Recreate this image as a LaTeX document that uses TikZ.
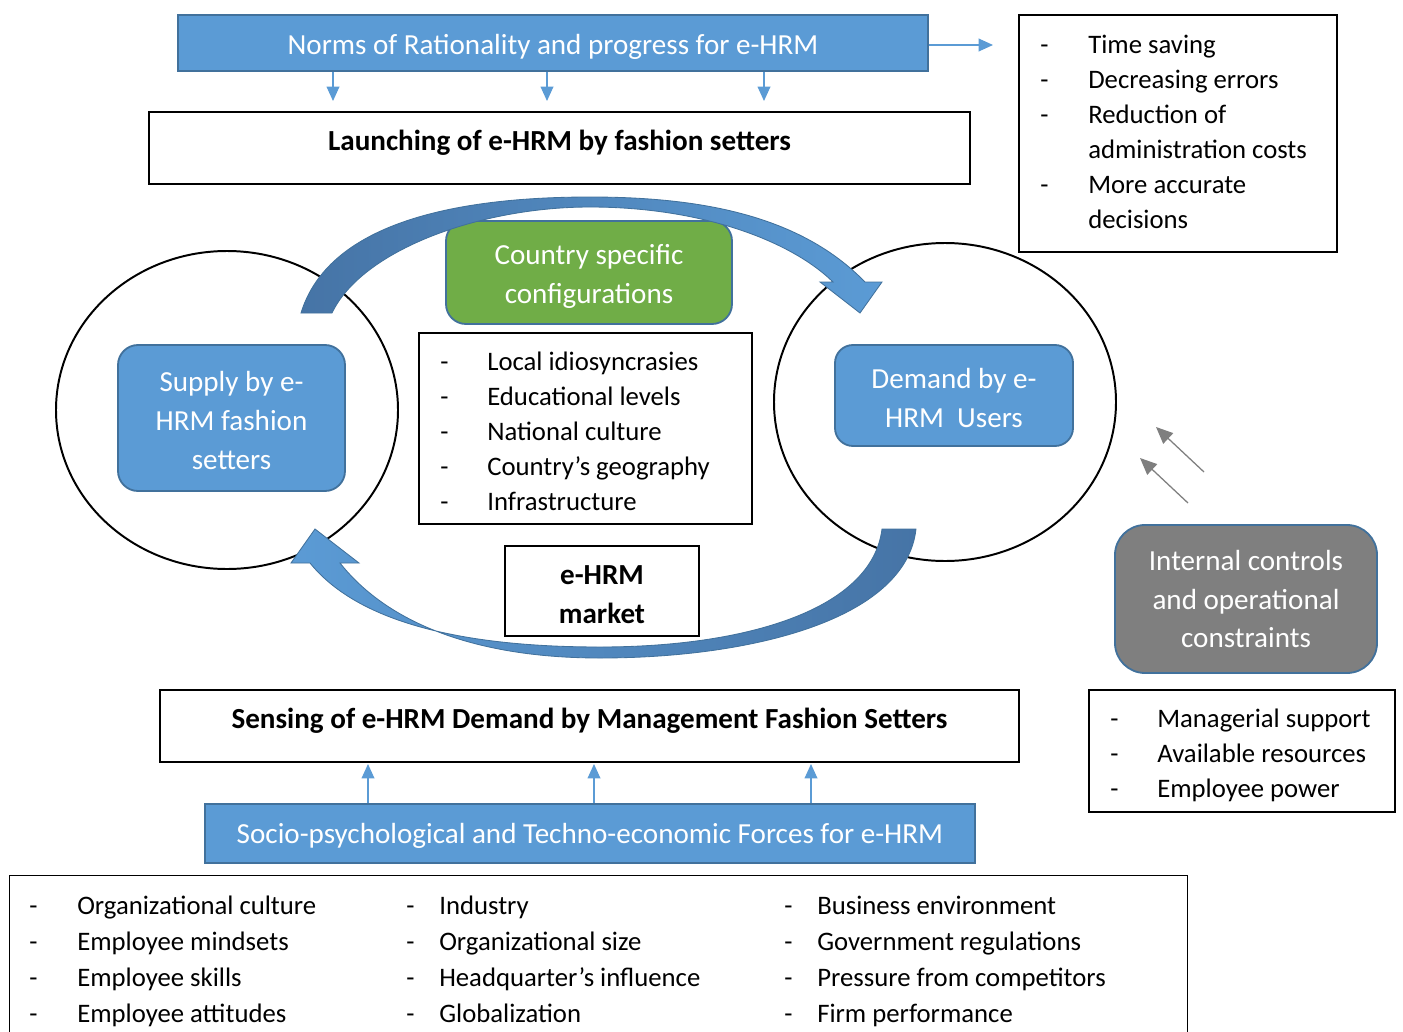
\documentclass[tikz,border=0pt]{standalone}
\usepackage{fontspec}
\setmainfont{Carlito}
\usetikzlibrary{arrows.meta,shapes.geometric}

\definecolor{boxblue}{HTML}{5B9BD5}
\definecolor{boxline}{HTML}{41719C}
\definecolor{tailblue}{HTML}{4674A6}
\definecolor{boxgreen}{HTML}{70AD47}
\definecolor{boxgrey}{HTML}{7F7F7F}
\def\unitpx{0.025cm}                       % one pixel of the layout
\newcommand\listsize{\fontsize{19}{25}\selectfont}
\newcommand\boxsize{\fontsize{20.7}{27.5}\selectfont}

\tikzset{
  plainbox/.style={draw=black, line width=1pt, inner sep=0pt},
  bluebox/.style={draw=boxline, fill=boxblue, line width=1.3pt, inner sep=0pt},
  boxtext/.style={text=white, font=\boxsize, align=center, inner sep=0pt},
  boldtext/.style={font=\boxsize\bfseries, align=center, inner sep=0pt},
  ring/.style={ellipse, draw=black, line width=1.4pt, inner sep=0pt,
    minimum width=342*\unitpx, minimum height=318*\unitpx},
  itemtext/.style={anchor=base west, inner sep=0pt, font=\listsize},
  bluearrow/.style={draw=boxblue, line width=0.9pt,
    -{Triangle[length=0.36cm,width=0.32cm]}},
  greyarrow/.style={draw=boxgrey, line width=0.9pt,
    -{Triangle[length=0.42cm,width=0.36cm]}},
  bigarrow/.style={draw=boxline, line width=0.6pt}
}

\begin{document}
\begin{tikzpicture}[x=0.025cm, y=-0.025cm]
  \useasboundingbox (0,0) rectangle (1403,1032);

  % market circles
  \node[ring] (supplyring) at (227,410) {};
  \node[ring] (demandring) at (945,402) {};

  % top part
  \node[bluebox, minimum width=750*\unitpx, minimum height=56*\unitpx,
    label={[boxtext, yshift=-0.1cm]center:Norms of Rationality and progress for e-HRM}]
    (norms) at (553,43) {};
  \node[plainbox, minimum width=821*\unitpx, minimum height=72*\unitpx,
    label={[boldtext, yshift=0.125cm]center:Launching of e-HRM by fashion setters}]
    (launch) at (559.5,148) {};
  \foreach \xx [count=\i] in {333,547,764} {
    \coordinate (nd\i) at (\xx,101);
    \draw[bluearrow] (norms.south -| nd\i) -- (nd\i);
  }
  \coordinate (ne) at (993,45);
  \draw[bluearrow] (norms.east |- ne) -- (ne);

  \node[plainbox, minimum width=318*\unitpx, minimum height=237*\unitpx]
    (gains) at (1178,133.5) {};
  \foreach \dash/\txt [count=\i] in {-/Time saving, -/Decreasing errors,
      -/Reduction of, /administration costs, -/More accurate, /decisions} {
    \node[itemtext] (gd\i) at (1040,{53+35*(\i-1)}) {\dash};
    \node[itemtext] (gt\i) at (1088,{53+35*(\i-1)}) {\txt};
  }

  % middle part
  \node[bluebox, rounded corners=0.5cm, minimum width=227*\unitpx,
    minimum height=146*\unitpx,
    label={[boxtext, yshift=-0.065cm]center:{Supply by e-\\HRM fashion\\setters}}]
    (supply) at (231.5,418) {};
  \node[bluebox, rounded corners=0.45cm, minimum width=238*\unitpx,
    minimum height=101*\unitpx,
    label={[boxtext, yshift=-0.065cm]center:{Demand by e-\\HRM\ \ Users}}]
    (demand) at (954,395.5) {};
  \node[bluebox, fill=boxgreen, rounded corners=0.5cm,
    minimum width=286*\unitpx, minimum height=103*\unitpx,
    label={[boxtext, yshift=-0.1cm]center:{Country specific\\configurations}}]
    (country) at (589,272.5) {};
  \node[plainbox, minimum width=333*\unitpx, minimum height=191*\unitpx]
    (local) at (585.5,428.5) {};
  \foreach \txt [count=\i] in {Local idiosyncrasies, Educational levels,
      National culture, Country’s geography, Infrastructure} {
    \node[itemtext] (ld\i) at (440,{370+35*(\i-1)}) {-};
    \node[itemtext] (lt\i) at (487,{370+35*(\i-1)}) {\txt};
  }
  \node[plainbox, minimum width=194*\unitpx, minimum height=90*\unitpx,
    label={[boldtext, yshift=-0.09cm]center:{e-HRM\\market}}]
    (market) at (602,591) {};

  % supply to demand, over the top
  \shadedraw[bigarrow, left color=tailblue, right color=boxblue]
    (301,313) -- (332,313)
    .. controls (362,250) and (480,207) .. (590,207)
    .. controls (700,207) and (790,240) .. (833,282)
    -- (820,282) -- (860,313) -- (882,282) -- (865,282)
    .. controls (800,215) and (700,197) .. (590,197)
    .. controls (450,197) and (328,225) .. (301,313) -- cycle;
  % demand back to supply, underneath
  \shadedraw[bigarrow, left color=boxblue, right color=tailblue]
    (916,529)
    .. controls (906,620) and (750,658) .. (600,658)
    .. controls (470,658) and (385,620) .. (340,563)
    -- (359,563) -- (315,529) -- (291,563) -- (310,563)
    .. controls (360,625) and (470,647) .. (600,647)
    .. controls (745,647) and (872,610) .. (882,529) -- cycle;

  % right side
  \node[bluebox, fill=boxgrey, rounded corners=0.75cm,
    minimum width=262*\unitpx, minimum height=148*\unitpx,
    label={[boxtext]center:{Internal controls\\and operational\\constraints}}]
    (internal) at (1246,599) {};
  \node[plainbox, minimum width=306*\unitpx, minimum height=122*\unitpx]
    (limits) at (1242,751) {};
  \foreach \txt [count=\i] in {Managerial support, Available resources,
      Employee power} {
    \node[itemtext] (md\i) at (1110,{727+35*(\i-1)}) {-};
    \node[itemtext] (mt\i) at (1157,{727+35*(\i-1)}) {\txt};
  }
  \coordinate (ga1) at (1204,472);
  \coordinate (gb1) at (1156,427);
  \coordinate (ga2) at (1188,503);
  \coordinate (gb2) at (1140,458);
  \draw[greyarrow] (ga1) -- (gb1);
  \draw[greyarrow] (ga2) -- (gb2);

  % bottom part
  \node[plainbox, minimum width=859*\unitpx, minimum height=72*\unitpx,
    label={[boldtext, yshift=0.125cm]center:Sensing of e-HRM Demand by Management Fashion Setters}]
    (sensing) at (589.5,726) {};
  \node[bluebox, minimum width=770*\unitpx, minimum height=59*\unitpx,
    label={[boxtext, yshift=-0.05cm]center:Socio-psychological and Techno-economic Forces for e-HRM}]
    (socio) at (590,833.5) {};
  \foreach \xx [count=\i] in {368,594,811} {
    \coordinate (su\i) at (\xx,764);
    \draw[bluearrow] (socio.north -| su\i) -- (su\i);
  }
  \node[plainbox, anchor=north west, minimum width=1178*\unitpx,
    minimum height=220*\unitpx] (forces) at (9,875) {};
  \foreach \ca/\cb/\cc [count=\i] in {
      Organizational culture/Industry/Business environment,
      Employee mindsets/Organizational size/Government regulations,
      Employee skills/Headquarter’s influence/Pressure from competitors,
      Employee attitudes/Globalization/Firm performance} {
    \node[itemtext] (fa\i) at (29,{914+36*(\i-1)}) {-};
    \node[itemtext] (fta\i) at (77,{914+36*(\i-1)}) {\ca};
    \node[itemtext] (fb\i) at (406,{914+36*(\i-1)}) {-};
    \node[itemtext] (ftb\i) at (439,{914+36*(\i-1)}) {\cb};
    \node[itemtext] (fc\i) at (784,{914+36*(\i-1)}) {-};
    \node[itemtext] (ftc\i) at (817,{914+36*(\i-1)}) {\cc};
  }
\end{tikzpicture}
\end{document}
